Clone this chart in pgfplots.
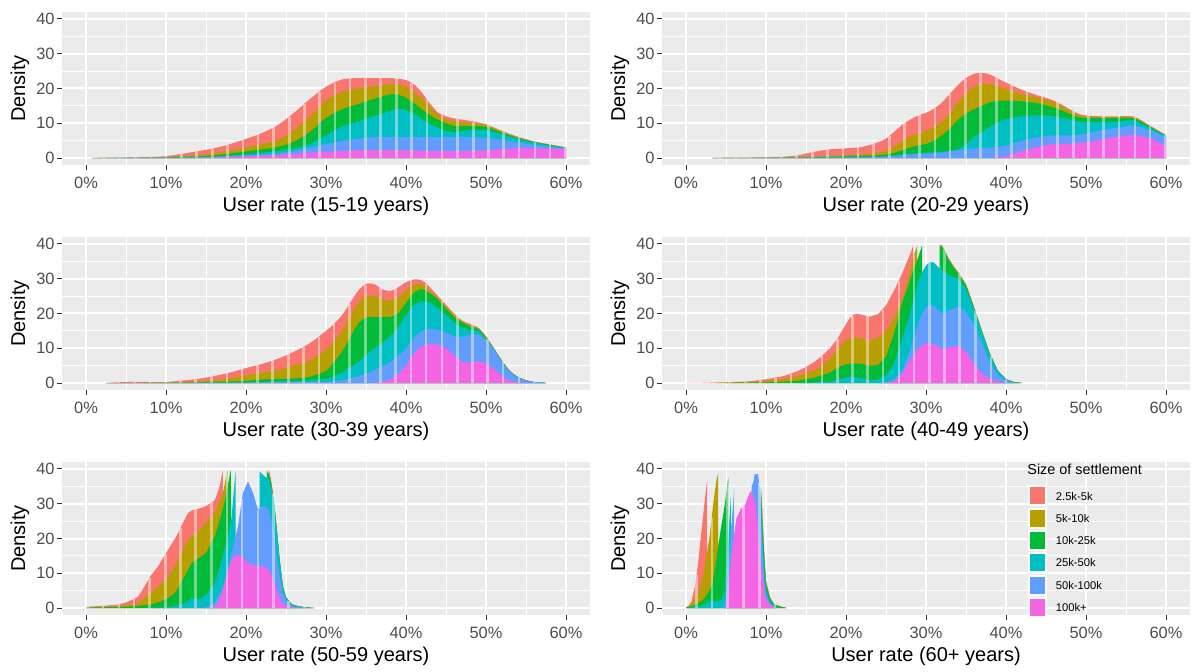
\documentclass[border=0pt]{standalone}
\usepackage{pgfplots}
\pgfplotsset{compat=1.18}
\usepackage{pgfplotstable}
\usepackage{fontspec}
\setmainfont{Liberation Sans}
\definecolor{c1}{HTML}{F564E3}
\definecolor{c2}{HTML}{619CFF}
\definecolor{c3}{HTML}{00BFC4}
\definecolor{c4}{HTML}{00BA38}
\definecolor{c5}{HTML}{B79F00}
\definecolor{c6}{HTML}{F8766D}
\definecolor{panelbg}{HTML}{EBEBEB}
\definecolor{tickc}{HTML}{4D4D4D}
\definecolor{tickm}{HTML}{333333}

\pgfplotsset{
  panel/.style={
    scale only axis, width=264pt, height=76.5pt,
    xmin=-3, xmax=63, ymin=-2, ymax=42,
    anchor=south west,
    axis background/.style={fill=panelbg},
    axis line style={draw=none},
    xtick={0,10,20,30,40,50,60},
    xticklabels={0\%,10\%,20\%,30\%,40\%,50\%,60\%},
    ytick={0,10,20,30,40}, yticklabels={0,10,20,30,40},
    minor xtick={5,15,25,35,45,55}, minor ytick={5,15,25,35},
    grid=both,
    major grid style={white, line width=1pt},
    minor grid style={white, line width=0.5pt},
    tick align=outside, tick pos=left,
    major tick length=2.5pt, minor tick length=0pt,
    tick style={draw=tickm, line width=0.5pt},
    /pgf/number format/assume math mode=true,
    tick label style={font=\fontsize{8.2}{9}\selectfont, text=tickc, inner sep=0pt},
    xticklabel style={anchor=center, yshift=-6.5pt},
    yticklabel style={anchor=east, xshift=-1pt},
    label style={font=\fontsize{10.5}{12}\selectfont},
    ylabel={Density},
    every axis y label/.style={at={(rel axis cs:-0.0795,0.5)}, anchor=center, rotate=90},
    every axis x label/.style={at={(rel axis cs:0.5,-0.268)}, anchor=center},
    clip=true,
  },
  lay/.style={draw=none, fill=#1},
  stripe/.style={ycomb, draw=white, draw opacity=0.45, line width=1.3pt, line cap=butt, mark=none, forget plot},
}

% cumulative tops: c1 = 100k+, c2 = +50k-100k, c3 = +25k-50k, c4 = +10k-25k, c5 = +5k-10k, c6 = total
\pgfplotstableread{
x c1 c2 c3 c4 c5 c6
0.7 0 0 0 0 0 0.05
2 0 0 0 0.01 0.04 0.1
5 0.01 0.02 0.03 0.05 0.08 0.15
8 0.02 0.03 0.06 0.1 0.15 0.3
10 0.03 0.05 0.1 0.15 0.3 0.55
12 0.06 0.1 0.18 0.3 0.6 1.2
14 0.1 0.15 0.25 0.45 0.9 2.0
16 0.2 0.3 0.4 0.8 1.4 2.8
18 0.35 0.5 0.7 1.3 2.1 4.0
20 0.5 0.7 1.0 1.9 3.0 5.5
22 0.7 1.0 1.5 2.5 4.0 7.2
24 0.9 1.3 2.0 3.2 5.2 9.5
26 1.2 2.0 2.7 4.7 8.0 13
28 1.5 3.0 4.0 7.5 12 17
30 1.8 4.0 6.5 11.5 16.5 20.5
32 2.0 5.0 9.0 14 19 22.6
34 2.2 5.5 10.5 15.5 20 23
36 2.2 6.0 12 17 20.6 23
38 2.2 6.0 13.5 18.3 21.2 23
39 2.2 6.0 14.1 18.2 21.2 22.8
40 2.2 6.0 13.8 17.3 20.5 22.4
41 2.1 6.0 12.7 15.8 19 21.2
42 2.1 6.0 11.2 14 17.3 18.8
43 2.0 6.0 9.8 12.3 14.8 15.7
44 2.0 6.0 8.7 11 12.5 13.1
45 2.0 6.0 7.8 10 11.2 12
46 2.0 6.0 7.5 9.3 10.6 11.4
48 2.1 6.0 8.0 9.2 10.1 10.7
50 2.2 5.8 8.0 9.0 9.4 9.7
52 2.6 5.3 6.8 7.3 7.6 7.8
54 2.8 4.5 5.5 5.8 6.0 6.1
56 2.8 3.8 4.4 4.6 4.7 4.8
58 2.7 3.2 3.6 3.75 3.85 3.9
60 2.5 2.8 2.9 2.95 3.0 3.1
}\tA

\pgfplotstableread{
x c1 c2 c3 c4 c5 c6
3.3 0 0 0 0 0 0.1
6 0 0 0 0.02 0.05 0.12
10 0 0 0.02 0.05 0.1 0.2
12 0 0.02 0.04 0.08 0.15 0.35
14 0 0.04 0.06 0.12 0.25 0.8
16 0 0.06 0.1 0.2 0.4 1.8
18 0 0.1 0.15 0.3 0.6 2.5
20 0 0.15 0.2 0.5 0.8 2.8
22 0 0.2 0.3 0.6 1.1 3.2
24 0 0.3 0.4 0.8 1.5 4.5
25 0 0.4 0.5 1.0 2.2 5.6
26 0 0.6 0.7 1.5 3.2 7.5
27 0 0.8 1.0 2.2 4.8 9.5
28 0 1.0 1.2 3.0 6.2 11
29 0 1.2 1.4 3.6 7.0 12.2
30 0 1.3 1.5 4.0 7.8 13
31 0 1.4 1.6 5.0 9.0 14.2
32 0 1.6 1.8 6.5 10.5 16
33 0 1.9 2.1 8.5 13 18.5
34 0 2.2 2.6 11 16 21
35 0 2.5 4.0 12.8 18.5 23
36 0 2.7 6.0 14 20.5 24.2
37 0 2.9 7.5 15 21.3 24.5
38 0 3.0 9.0 16 21.3 24
39 0.2 3.2 10.3 16.4 20.6 22.8
40 0.5 3.5 11.2 16.5 19.8 21.7
42 2.0 5.0 12.0 16.3 18.3 19.6
44 3.2 6.0 12.3 15.7 17.4 18
46 4.0 6.5 12.0 14.5 16 16.5
48 4.1 6.5 11.0 12.7 13.6 14
49 4.3 6.7 10.5 11.8 12.5 12.8
50 4.5 7.0 10.3 11.5 12 12.2
52 5.3 8.0 10.5 11.5 11.8 12
54 6.2 8.8 10.5 11.5 11.8 12
56 6.6 9.3 10.8 11.4 11.7 11.9
58 5.6 8.0 8.6 9.0 9.2 9.3
60 3.6 5.8 6.3 6.4 6.5 6.6
}\tB

\pgfplotstableread{
x c1 c2 c3 c4 c5 c6
2.5 0 0 0 0 0 0.05
5 0 0 0 0 0.05 0.3
8 0 0 0 0.02 0.1 0.3
10 0 0 0.02 0.05 0.15 0.3
12 0 0 0.05 0.1 0.3 0.7
14 0 0.02 0.08 0.2 0.5 1.2
16 0 0.05 0.1 0.3 0.8 2.0
18 0 0.08 0.15 0.45 1.3 3.0
20 0 0.1 0.2 0.6 2.2 4.3
22 0 0.15 0.3 1.0 3.0 5.5
24 0 0.2 0.5 1.2 3.8 7.0
26 0 0.25 0.6 1.3 5.0 9.0
28 0 0.3 0.8 1.8 6.5 11.5
30 0 0.3 1.2 3.5 9.5 15
31 0 0.5 2.0 6.0 12 17
32 0 0.8 3.0 9.0 15 19.5
33 0 1.3 4.5 13 19 23
34 0 2.0 6.0 17 23 26.5
35 0 2.8 8.0 18.8 25 28.5
36 0 3.7 10 19 25 28.5
37 0.4 4.8 11.5 19 24.2 27
38 1.0 6.0 13.5 19 23.8 26.5
39 2.5 7.8 16 20 24.5 27.5
40 5.0 10 19.5 23 26.5 29
41 8.5 13 22.5 26 28.3 29.8
42 10.5 15 23.5 27 28.5 29.5
43 11.3 15.6 23 25.8 26.5 27.5
44 11 15.4 21.5 24 24.5 25
45 10 14.5 19.5 21.5 22 22.5
46 8 13.5 17.5 19 19.5 20
47 6.2 13.3 16 17.5 17.8 18
48 5.8 13.8 15.3 16.3 16.7 17
49 6.3 14 15 15.6 15.8 16
50 5.5 12.3 12.8 13 13.3 13.5
51 4 9.5 9.7 9.8 9.9 10
52 2 6.0 6.2 6.3 6.4 6.5
53 0.7 3.2 3.3 3.4 3.45 3.5
54 0.2 1.6 1.65 1.7 1.75 1.8
55 0.05 0.75 0.78 0.79 0.8 0.8
56 0 0.3 0.3 0.3 0.3 0.3
57.5 0 0.05 0.05 0.05 0.05 0.05
}\tC

\begin{document}
\begin{tikzpicture}
\path[use as bounding box] (0,0) rectangle (599pt,-336pt);

% ---------- Panel 1 ----------
\begin{axis}[panel, at={(31pt,-82.5pt)}, xlabel={User rate (15-19 years)}]
\addplot[lay=c6, smooth] table[x=x,y=c6]{\tA} \closedcycle;
\addplot[lay=c5, smooth] table[x=x,y=c5]{\tA} \closedcycle;
\addplot[lay=c4, smooth] table[x=x,y=c4]{\tA} \closedcycle;
\addplot[lay=c3, smooth] table[x=x,y=c3]{\tA} \closedcycle;
\addplot[lay=c2, smooth] table[x=x,y=c2]{\tA} \closedcycle;
\addplot[lay=c1, smooth] table[x=x,y=c1]{\tA} \closedcycle;
\addplot[stripe] coordinates {(2.3,0.1)(4.2,0.13)(6.2,0.17)(8.1,0.3)(10.0,0.55)(11.9,1.15)(13.8,1.9)(15.8,2.7)(17.7,3.8)(19.6,5.2)(21.5,6.8)(23.4,8.8)(25.4,11.9)(27.3,15.6)(29.2,19)(31.1,21.7)(33.0,22.9)(34.9,23)(36.8,23)(38.8,22.9)(40.7,21.6)(42.6,17)(44.5,12.5)(46.4,11.3)(48.4,10.5)(50.3,9.4)(52.2,7.6)(54.1,6)(56.1,4.75)(58.0,3.9)(59.9,3.1)};
\end{axis}

% ---------- Panel 2 ----------
\begin{axis}[panel, at={(331pt,-82.5pt)}, xlabel={User rate (20-29 years)}]
\addplot[lay=c6, smooth] table[x=x,y=c6]{\tB} \closedcycle;
\addplot[lay=c5, smooth] table[x=x,y=c5]{\tB} \closedcycle;
\addplot[lay=c4, smooth] table[x=x,y=c4]{\tB} \closedcycle;
\addplot[lay=c3, smooth] table[x=x,y=c3]{\tB} \closedcycle;
\addplot[lay=c2, smooth] table[x=x,y=c2]{\tB} \closedcycle;
\addplot[lay=c1, smooth] table[x=x,y=c1]{\tB} \closedcycle;
\addplot[stripe] coordinates {(4.2,0.1)(6.2,0.12)(8.1,0.15)(10.0,0.2)(11.9,0.35)(13.8,0.75)(15.8,1.7)(17.7,2.4)(19.6,2.75)(21.5,3.1)(23.4,4)(25.4,6.4)(27.3,10)(29.2,12.4)(31.1,14.4)(33.0,18.5)(34.9,22.8)(36.8,24.5)(38.8,23)(40.7,21)(42.6,19.2)(44.5,17.6)(46.4,16)(48.4,13.5)(50.3,12.2)(52.2,12)(54.1,12)(56.1,11.8)(58.0,9.3)(59.9,6.7)};
\end{axis}

% ---------- Panel 3 ----------
\begin{axis}[panel, at={(31pt,-195pt)}, xlabel={User rate (30-39 years)}]
\addplot[lay=c6, smooth] table[x=x,y=c6]{\tC} \closedcycle;
\addplot[lay=c5, smooth] table[x=x,y=c5]{\tC} \closedcycle;
\addplot[lay=c4, smooth] table[x=x,y=c4]{\tC} \closedcycle;
\addplot[lay=c3, smooth] table[x=x,y=c3]{\tC} \closedcycle;
\addplot[lay=c2, smooth] table[x=x,y=c2]{\tC} \closedcycle;
\addplot[lay=c1, smooth] table[x=x,y=c1]{\tC} \closedcycle;
\addplot[stripe] coordinates {(4.1,0.2)(6.1,0.3)(8.0,0.3)(9.9,0.3)(11.8,0.65)(13.7,1.1)(15.7,1.9)(17.6,2.8)(19.5,4)(21.4,5.1)(23.3,6.5)(25.3,8.3)(27.2,10.5)(29.1,13.2)(31.0,17)(32.9,22.6)(34.9,28.3)(36.8,27.3)(38.7,27.2)(40.6,29.5)(42.5,28.5)(44.5,23.7)(46.4,19.2)(48.3,16.7)(50.2,12.8)(52.1,6.2)(54.1,1.7)(56.0,0.3)};
\end{axis}

% ---------- Panel 4 ----------
\begin{axis}[panel, at={(331pt,-195pt)}, xlabel={User rate (40-49 years)}]
\addplot[lay=c6] coordinates {(0,0.05)(3,0.1)(5,0.2)(8,0.5)(10,1.1)(12,1.9)(13,2.6)(14,3.5)(15,4.6)(16,6)(17,7.8)(18,10)(19,13)(20,17)(20.5,18.8)(21,19.7)(21.5,19.9)(22,19.6)(23,19.1)(24,19.8)(25,22.3)(26,26.6)(27,31.4)(28,37)(28.4,39.6)(28.4,0)(31.9,0)(31.9,39.8)(32.3,38.5)(32.8,36)(33.5,33.5)(34,32)(35,28.5)(36,22)(37,15)(38,8.5)(39,3.5)(40,1.2)(41,0.3)(42,0.05)} \closedcycle;
\addplot[lay=c5] coordinates {(3,0.05)(8,0.3)(10,0.6)(12,1.1)(14,2)(16,3.6)(17,5)(18,7)(19,10)(20,12.3)(21,13.2)(22,12.8)(23,12)(24,13)(25,15)(26,18.5)(27,24)(28,32)(28.4,36)(28.9,39.6)(28.9,0)(32.0,0)(32.0,39.5)(32.3,38.3)(32.8,35.8)(33.5,33.3)(34,31.8)(35,28.3)(36,21.9)(37,14.9)(38,8.4)(39,3.45)(40,1.15)(41,0.28)(42,0.04)} \closedcycle;
\addplot[lay=c4] coordinates {(5,0.05)(10,0.2)(12,0.4)(14,0.7)(16,1.5)(17,2.2)(18,3)(19,4.5)(20,5.4)(21,5.7)(22,5.5)(23,4.9)(24,5.2)(25,7.5)(26,14.2)(27,22.8)(28,29.5)(28.5,33)(29,36)(29.5,39.6)(29.5,0)(31.7,0)(31.7,39.8)(32,39)(32.3,38)(32.8,35.5)(33.5,33)(34,31.6)(35,28.1)(36,21.7)(37,14.8)(38,8.3)(39,3.4)(40,1.1)(41,0.25)(42,0.03)} \closedcycle;
\addplot[lay=c3] coordinates {(14,0.05)(16,0.2)(18,0.5)(19,1)(20,1.6)(20.5,1.9)(21,1.8)(22,1.3)(23,0.9)(23.5,0.8)(24,1)(25,2.2)(26,5.5)(27,12.7)(28,19.9)(28.5,24.5)(29,29)(29.5,31.8)(30,33.8)(30.5,34.9)(31,34.6)(31.5,33.4)(32,32.3)(33,31)(34,30)(35,27)(36,21.3)(37,14.5)(38,8)(39,3.3)(40,1.05)(41,0.2)(42,0.02)} \closedcycle;
\addplot[lay=c2] coordinates {(24,0)(25,0.3)(26,1)(27,3.6)(28,9.4)(28.5,13.2)(29,17)(29.5,20)(30,21.8)(30.5,22.5)(31,22.2)(32,20.1)(33,21)(34,22)(35,20.5)(36,16.8)(37,11.3)(38,5.8)(39,2.3)(40,0.7)(41,0.15)} \closedcycle;
\addplot[lay=c1] coordinates {(25,0)(26,0.5)(27,2.5)(28,6.5)(29,10)(30,11.5)(31,11.2)(32,9.6)(33,10.3)(34,10.8)(35,9)(36,5.5)(37,2.7)(38,1.2)(39,0.4)(40,0.1)} \closedcycle;
\addplot[stripe] coordinates {(1.6,0.07)(3.5,0.12)(5.4,0.24)(7.4,0.42)(9.3,0.9)(11.2,1.55)(13.1,2.7)(15.0,4.6)(17.0,7.8)(18.9,12.7)(20.8,19.4)(22.7,19.2)(24.6,21)(26.6,29.4)(28.5,36.7)(30.4,34.8)(32.3,38.5)(34.2,31.3)(36.2,20.6)(38.1,7.9)(40.0,1.2)(41.9,0.06)};
\end{axis}

% ---------- Panel 5 ----------
\begin{axis}[panel, at={(31pt,-307.5pt)}, xlabel={User rate (50-59 years)}]
\addplot[lay=c6] coordinates {(0,0.3)(1,0.5)(2,0.6)(3,0.8)(4,1.0)(5,1.6)(6,2.6)(6.5,3.3)(7,5)(8,9)(9,12)(10,15.8)(11,19.5)(11.5,21.5)(12,24)(12.75,27.3)(13.3,28.2)(14,28.5)(15,29.3)(16.1,31)(16.7,35)(17.1,39.5)(17.1,0)(22.9,0)(22.9,39.6)(23.2,36)(23.5,31)(23.8,24)(24.2,14.2)(24.6,6.5)(25,3.2)(25.7,1.2)(26.5,0.6)(27.5,0.25)(28.5,0.05)} \closedcycle;
\addplot[lay=c5] coordinates {(0,0.2)(2,0.35)(4,0.5)(5,0.8)(6,1.1)(6.5,1.3)(7,2.2)(8,4.2)(9,6.1)(10,8.1)(11,11.5)(11.5,13.8)(12,16)(12.75,19.6)(14,22)(15,24.4)(16.1,27.3)(17.1,33)(17.6,38.5)(17.7,39.6)(17.7,0)(22.8,0)(22.8,39.5)(23.2,35.8)(23.5,30.8)(23.8,23.8)(24.2,14.1)(24.6,6.4)(25,3.1)(25.7,1.1)(26.5,0.55)(27.5,0.2)(28.5,0.04)} \closedcycle;
\addplot[lay=c4] coordinates {(0,0.1)(2,0.2)(4,0.3)(6,0.5)(8,1.0)(9,1.6)(10,2.5)(11,4)(11.5,5.7)(12.3,9)(13.2,12.9)(13.8,13.8)(15,15.8)(16.1,20.6)(17.1,28.3)(17.6,33.5)(18.0,38.8)(18.1,39.6)(18.1,0)(22.6,0)(22.6,39.6)(23,37.5)(23.5,30.5)(23.8,23.7)(24.2,14)(24.6,6.3)(25,3)(25.7,1.05)(26.5,0.5)(27.5,0.18)(28.5,0.03)} \closedcycle;
\addplot[lay=c3] coordinates {(8,0.05)(10,0.2)(11,0.5)(12.3,1.3)(13.2,2.8)(14.2,2.5)(15,3.8)(16.1,7.1)(17.1,14.8)(17.7,20)(18.2,26.3)(18.6,37)(18.7,39.5)(18.7,0)(21.7,0)(21.7,39.3)(22.3,37.9)(22.9,37)(23.4,32)(23.8,23.4)(24.2,13.8)(24.6,6.1)(25,2.8)(25.7,0.9)(26.5,0.45)(27.5,0.15)(28.5,0.02)} \closedcycle;
\addplot[lay=c2] coordinates {(14,0.05)(15,0.2)(16.1,1.5)(17.1,6)(17.75,11.5)(18.2,16)(19,23.4)(19.6,33)(20.25,36.4)(20.9,33)(21.5,28.3)(22.1,29.2)(22.75,28.8)(23.4,23.5)(24,11.9)(24.6,4.2)(25.25,1.3)(26,0.5)(27,0.1)} \closedcycle;
\addplot[lay=c1] coordinates {(15.5,0)(16.1,0.4)(16.5,1.5)(17.1,5)(17.75,11)(18.4,14.8)(19,15.3)(19.6,14.5)(20.25,12.9)(21.5,11.9)(22.1,12.1)(22.9,11)(23.6,7.1)(24,4.2)(24.6,1.3)(25.25,0.4)(26,0.1)} \closedcycle;
\addplot[stripe] coordinates {(0.2,0.33)(2.1,0.6)(4.1,1.05)(6.0,2.6)(7.9,8.6)(9.9,15.4)(11.8,23)(13.7,28.4)(15.7,30.4)(17.6,38.5)(19.5,31.5)(21.5,28.3)(23.4,32.7)(25.3,2.1)(27.3,0.3)};
\end{axis}

% ---------- Panel 6 ----------
\begin{axis}[panel, at={(331pt,-307.5pt)}, xlabel={User rate (60+ years)}]
\addplot[lay=c6] coordinates {(0,0.3)(0.25,0.5)(0.67,1.8)(1.1,6.1)(1.5,12.8)(1.9,21.5)(2.3,30)(2.65,37)(2.65,0)(9.45,0)(9.45,33)(9.6,25)(9.8,15)(10,8)(10.5,3.2)(11,1.2)(12,0.35)(12.5,0.07)} \closedcycle;
\addplot[lay=c5] coordinates {(0,0.2)(0.5,0.8)(1,2)(1.5,4.2)(2.3,10.9)(3,21.5)(3.4,30)(3.8,36.8)(4.0,38.7)(4.0,0)(9.4,0)(9.4,34)(9.5,28)(9.7,19)(10,7.5)(10.5,3)(11,1.1)(12,0.32)(12.5,0.06)} \closedcycle;
\addplot[lay=c4] coordinates {(0,0.1)(0.5,0.4)(1,0.8)(1.5,1.3)(2.3,2.8)(3.2,6.1)(3.6,10.9)(4,17.6)(4.4,23.4)(4.8,29.1)(5.25,36.8)(5.3,37.5)(5.3,0)(9.35,0)(9.35,35)(9.5,27)(9.7,18)(10,7)(10.5,2.8)(11,1.0)(11.5,0.5)(12,0.3)(12.5,0.05)} \closedcycle;
\addplot[lay=c3] coordinates {(0.3,0.05)(1,0.3)(1.5,0.5)(2.3,0.9)(3.2,2.3)(3.8,1.8)(4.4,2.3)(4.8,4.2)(5.25,18.6)(5.6,32)(5.65,0)(9.25,0)(9.25,36.3)(9.4,28)(9.6,19)(9.8,10)(10,5)(10.5,1.8)(11,0.6)(11.5,0.2)} \closedcycle;
\addplot[lay=c2] coordinates {(4.6,0)(4.8,0.5)(5.25,8)(5.6,22)(5.9,30)(6.0,34.4)(6.05,0)(8.2,0)(8.2,35)(8.4,36)(8.6,38.5)(8.8,38.5)(9.0,38.5)(9.2,35)(9.4,25)(9.6,16)(9.8,8)(10,4)(10.5,1.2)(11,0.4)} \closedcycle;
\addplot[lay=c1] coordinates {(5,0)(5.25,4.2)(5.7,15.7)(6.1,22.4)(6.3,25.8)(6.9,28.7)(7.3,29.1)(7.75,32)(8.1,33.7)(8.4,32.5)(8.7,30.1)(9,23.4)(9.3,13.8)(9.7,6.1)(10,2.3)(10.7,0.6)(11,0.2)} \closedcycle;
\addplot[stripe] coordinates {(1.3,9.5)(3.25,26)(5.2,35.5)(7.2,29)(9.15,36)(11.1,1.1)};
\end{axis}

% ---------- Legend ----------
\begin{scope}[x=0.5pt, y=-0.5pt]
\node[anchor=base west, inner sep=0pt, font=\fontsize{7.2}{8}\selectfont] at (1027,475) {Size of settlement};
\foreach \c/\t [count=\i from 0] in {c6/2.5k-5k, c5/5k-10k, c4/10k-25k, c3/25k-50k, c2/50k-100k, c1/100k+}{
  \draw[fill=\c, draw=white, line width=1pt] (1028.5,486.5+22.3*\i) rectangle (1046,505.5+22.3*\i);
  \node[anchor=west, inner sep=0pt, font=\fontsize{5.6}{6}\selectfont] at (1055.5,496+22.3*\i) {\t};
}
\end{scope}
\end{tikzpicture}
\end{document}
